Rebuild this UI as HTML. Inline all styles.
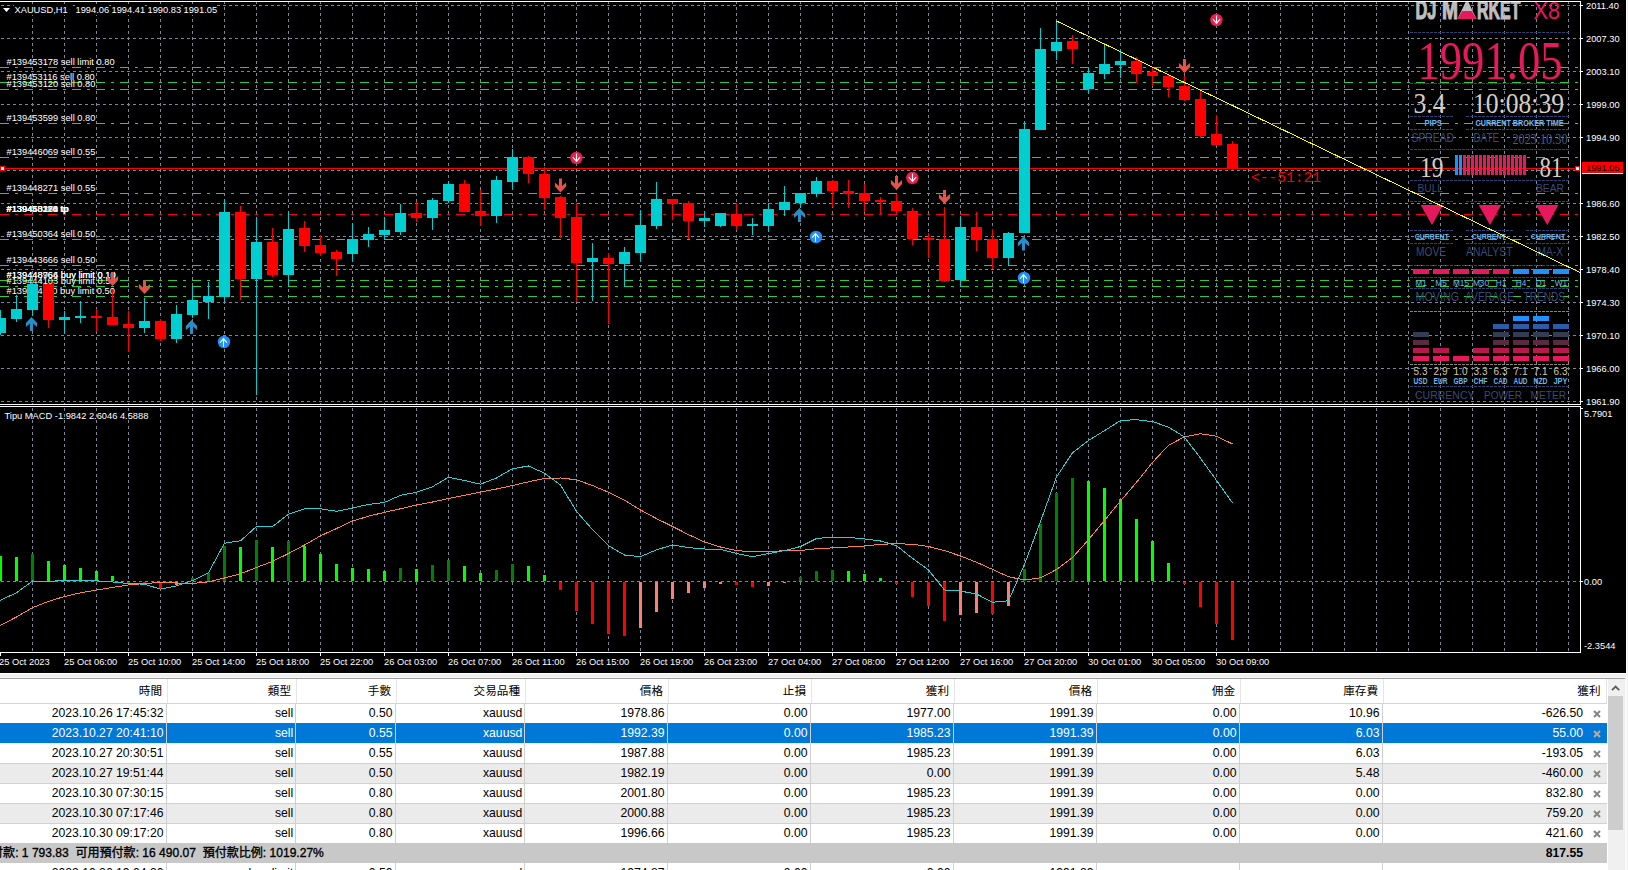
<!DOCTYPE html>
<html><head><meta charset="utf-8"><title>MT4</title>
<style>
html,body{margin:0;padding:0}
body{width:1628px;height:870px;overflow:hidden;background:#f0f0f0;position:relative;font-family:"Liberation Sans","Noto Sans CJK TC",sans-serif}

#term{position:absolute;left:0;top:673px;width:1628px;height:197px;background:#f0f0f0;overflow:hidden}
#term div{position:absolute}
#term .c{top:0;height:20px;line-height:20px;text-align:right;white-space:nowrap;font-size:12.2px;color:#000}
#term .h{top:0;height:24px;line-height:24px;text-align:right;white-space:nowrap;font-size:11.6px;color:#000}
#term .x{font-size:12px;color:#8a8a8a;font-weight:bold;line-height:12px}

</style></head><body>
<svg width="1628" height="673" viewBox="0 0 1628 673" style="position:absolute;left:0;top:0;display:block" font-family='"Liberation Sans", sans-serif'>
<rect x="0" y="0" width="1628" height="673" fill="#f0f0f0"/>
<rect x="1626" y="0" width="1" height="673" fill="#fff"/>
<rect x="0" y="0" width="1626" height="673" fill="#000"/>
<defs><clipPath id="cm"><rect x="0" y="2" width="1580" height="402"/></clipPath><clipPath id="cs"><rect x="0" y="407" width="1580" height="245"/></clipPath></defs>
<g clip-path="url(#cm)">
<path d="M0 5.5H1580 M0 38.5H1580 M0 71.5H1580 M0 104.5H1580 M0 137.5H1580 M0 170.5H1580 M0 203.5H1580 M0 236.5H1580 M0 269.5H1580 M0 302.5H1580 M0 335.5H1580 M0 368.5H1580 M0 401.5H1580" stroke="#778899" stroke-width="1" stroke-dasharray="3 3" stroke-dashoffset="5" fill="none" shape-rendering="crispEdges"/>
<path d="M32.5 0V404 M64.5 0V404 M96.5 0V404 M128.5 0V404 M160.5 0V404 M192.5 0V404 M224.5 0V404 M256.5 0V404 M288.5 0V404 M320.5 0V404 M352.5 0V404 M384.5 0V404 M416.5 0V404 M448.5 0V404 M480.5 0V404 M512.5 0V404 M544.5 0V404 M576.5 0V404 M608.5 0V404 M640.5 0V404 M672.5 0V404 M704.5 0V404 M736.5 0V404 M768.5 0V404 M800.5 0V404 M832.5 0V404 M864.5 0V404 M896.5 0V404 M928.5 0V404 M960.5 0V404 M992.5 0V404 M1024.5 0V404 M1056.5 0V404 M1088.5 0V404 M1120.5 0V404 M1152.5 0V404 M1184.5 0V404 M1216.5 0V404 M1248.5 0V404 M1280.5 0V404 M1312.5 0V404 M1344.5 0V404 M1376.5 0V404 M1408.5 0V404 M1440.5 0V404 M1472.5 0V404 M1504.5 0V404 M1536.5 0V404 M1568.5 0V404" stroke="#778899" stroke-width="1" stroke-dasharray="3 3" stroke-dashoffset="5" fill="none" shape-rendering="crispEdges"/>
<path d="M0 67.5H1580 M0 82.5H1580 M0 89.5H1580 M0 123.5H1580 M0 157.5H1580 M0 193.5H1580 M0 239.5H1580 M0 265.5H1580 M0 280.5H1580 M0 286.5H1580 M0 296.5H1580" stroke="#32cd32" stroke-width="1" stroke-dasharray="9 6 3 6" fill="none" shape-rendering="crispEdges"/>
<path d="M0 214.5H1580" stroke="#ff0000" stroke-width="1" stroke-dasharray="9 6 3 6" fill="none" shape-rendering="crispEdges"/>
<path d="M0 168.5H1580" stroke="#ff0000" stroke-width="1" fill="none" shape-rendering="crispEdges"/>
<rect x="0" y="166" width="5" height="5" fill="#f00"/><rect x="1" y="167" width="3" height="3" fill="#fff"/>
<text transform="matrix(0.95,0,0,1,6.5,65.0)" font-size="9.8" fill="#fff">#139453178 sell limit 0.80</text>
<text transform="matrix(0.95,0,0,1,6.5,80.0)" font-size="9.8" fill="#fff">#139453116 sell 0.80</text>
<text transform="matrix(0.95,0,0,1,6.5,87.0)" font-size="9.8" fill="#fff">#139453120 sell 0.80</text>
<text transform="matrix(0.95,0,0,1,6.5,121.0)" font-size="9.8" fill="#fff">#139453599 sell 0.80</text>
<text transform="matrix(0.95,0,0,1,6.5,155.0)" font-size="9.8" fill="#fff">#139446069 sell 0.55</text>
<text transform="matrix(0.95,0,0,1,6.5,191.0)" font-size="9.8" fill="#fff">#139448271 sell 0.55</text>
<text transform="matrix(0.95,0,0,1,6.5,237.0)" font-size="9.8" fill="#fff">#139450364 sell 0.50</text>
<text transform="matrix(0.95,0,0,1,6.5,263.0)" font-size="9.8" fill="#fff">#139443666 sell 0.50</text>
<text transform="matrix(0.95,0,0,1,6.5,278.0)" font-size="9.8" fill="#fff">#139448766 buy limit 0.10</text>
<text transform="matrix(0.95,0,0,1,6.5,278.0)" font-size="9.8" fill="#fff">#139448964 buy limit 0.10</text>
<text transform="matrix(0.95,0,0,1,6.5,284.0)" font-size="9.8" fill="#fff">#139444103 buy limit 0.50</text>
<text transform="matrix(0.95,0,0,1,6.5,294.0)" font-size="9.8" fill="#fff">#139444110 buy limit 0.50</text>
<text transform="matrix(0.95,0,0,1,6.5,212.0)" font-size="9.8" fill="#fff">#139453116 tp</text>
<text transform="matrix(0.95,0,0,1,6.5,212.0)" font-size="9.8" fill="#fff">#139453120 tp</text>
<text transform="matrix(0.95,0,0,1,6.5,212.0)" font-size="9.8" fill="#fff">#139450364 tp</text>
<text transform="matrix(0.95,0,0,1,6.5,212.0)" font-size="9.8" fill="#fff">#139448271 tp</text>
<rect x="0" y="310" width="1" height="25" fill="#00ced1"/>
<rect x="-5" y="318" width="11" height="15" fill="#00ced1"/>
<rect x="16" y="295" width="1" height="27" fill="#00ced1"/>
<rect x="11" y="309" width="11" height="10" fill="#00ced1"/>
<rect x="32" y="284" width="1" height="32" fill="#00ced1"/>
<rect x="27" y="284" width="11" height="26" fill="#00ced1"/>
<rect x="48" y="284" width="1" height="44" fill="#ff0000"/>
<rect x="43" y="284" width="11" height="36" fill="#ff0000"/>
<rect x="64" y="311" width="1" height="23" fill="#00ced1"/>
<rect x="59" y="317" width="11" height="3" fill="#00ced1"/>
<rect x="80" y="301" width="1" height="22" fill="#00ced1"/>
<rect x="75" y="316" width="11" height="2" fill="#00ced1"/>
<rect x="96" y="309" width="1" height="23" fill="#ff0000"/>
<rect x="91" y="316" width="11" height="2" fill="#ff0000"/>
<rect x="112" y="289" width="1" height="36" fill="#ff0000"/>
<rect x="107" y="317" width="11" height="8" fill="#ff0000"/>
<rect x="128" y="311" width="1" height="41" fill="#ff0000"/>
<rect x="123" y="324" width="11" height="4" fill="#ff0000"/>
<rect x="144" y="298" width="1" height="35" fill="#00ced1"/>
<rect x="139" y="321" width="11" height="7" fill="#00ced1"/>
<rect x="160" y="319" width="1" height="22" fill="#ff0000"/>
<rect x="155" y="321" width="11" height="18" fill="#ff0000"/>
<rect x="176" y="305" width="1" height="38" fill="#00ced1"/>
<rect x="171" y="314" width="11" height="25" fill="#00ced1"/>
<rect x="192" y="285" width="1" height="33" fill="#00ced1"/>
<rect x="187" y="300" width="11" height="15" fill="#00ced1"/>
<rect x="208" y="282" width="1" height="37" fill="#00ced1"/>
<rect x="203" y="296" width="11" height="6" fill="#00ced1"/>
<rect x="224" y="199" width="1" height="103" fill="#00ced1"/>
<rect x="219" y="212" width="11" height="85" fill="#00ced1"/>
<rect x="240" y="206" width="1" height="94" fill="#ff0000"/>
<rect x="235" y="212" width="11" height="67" fill="#ff0000"/>
<rect x="256" y="217" width="1" height="178" fill="#00ced1"/>
<rect x="251" y="242" width="11" height="37" fill="#00ced1"/>
<rect x="272" y="228" width="1" height="49" fill="#ff0000"/>
<rect x="267" y="242" width="11" height="33" fill="#ff0000"/>
<rect x="288" y="211" width="1" height="75" fill="#00ced1"/>
<rect x="283" y="229" width="11" height="46" fill="#00ced1"/>
<rect x="304" y="221" width="1" height="31" fill="#ff0000"/>
<rect x="299" y="228" width="11" height="18" fill="#ff0000"/>
<rect x="320" y="235" width="1" height="21" fill="#ff0000"/>
<rect x="315" y="245" width="11" height="8" fill="#ff0000"/>
<rect x="336" y="250" width="1" height="26" fill="#ff0000"/>
<rect x="331" y="252" width="11" height="7" fill="#ff0000"/>
<rect x="352" y="223" width="1" height="39" fill="#00ced1"/>
<rect x="347" y="239" width="11" height="15" fill="#00ced1"/>
<rect x="368" y="227" width="1" height="20" fill="#00ced1"/>
<rect x="363" y="234" width="11" height="6" fill="#00ced1"/>
<rect x="384" y="217" width="1" height="22" fill="#00ced1"/>
<rect x="379" y="230" width="11" height="5" fill="#00ced1"/>
<rect x="400" y="204" width="1" height="31" fill="#00ced1"/>
<rect x="395" y="213" width="11" height="19" fill="#00ced1"/>
<rect x="416" y="202" width="1" height="20" fill="#ff0000"/>
<rect x="411" y="213" width="11" height="5" fill="#ff0000"/>
<rect x="432" y="198" width="1" height="32" fill="#00ced1"/>
<rect x="427" y="200" width="11" height="18" fill="#00ced1"/>
<rect x="448" y="181" width="1" height="22" fill="#00ced1"/>
<rect x="443" y="184" width="11" height="17" fill="#00ced1"/>
<rect x="464" y="180" width="1" height="32" fill="#ff0000"/>
<rect x="459" y="184" width="11" height="28" fill="#ff0000"/>
<rect x="480" y="190" width="1" height="36" fill="#ff0000"/>
<rect x="475" y="211" width="11" height="5" fill="#ff0000"/>
<rect x="496" y="176" width="1" height="47" fill="#00ced1"/>
<rect x="491" y="180" width="11" height="36" fill="#00ced1"/>
<rect x="512" y="149" width="1" height="41" fill="#00ced1"/>
<rect x="507" y="157" width="11" height="25" fill="#00ced1"/>
<rect x="528" y="156" width="1" height="27" fill="#ff0000"/>
<rect x="523" y="157" width="11" height="17" fill="#ff0000"/>
<rect x="544" y="167" width="1" height="43" fill="#ff0000"/>
<rect x="539" y="174" width="11" height="24" fill="#ff0000"/>
<rect x="560" y="196" width="1" height="42" fill="#ff0000"/>
<rect x="555" y="197" width="11" height="21" fill="#ff0000"/>
<rect x="576" y="203" width="1" height="99" fill="#ff0000"/>
<rect x="571" y="217" width="11" height="46" fill="#ff0000"/>
<rect x="592" y="243" width="1" height="58" fill="#00ced1"/>
<rect x="587" y="258" width="11" height="4" fill="#00ced1"/>
<rect x="608" y="253" width="1" height="71" fill="#ff0000"/>
<rect x="603" y="258" width="11" height="6" fill="#ff0000"/>
<rect x="624" y="247" width="1" height="40" fill="#00ced1"/>
<rect x="619" y="252" width="11" height="12" fill="#00ced1"/>
<rect x="640" y="210" width="1" height="52" fill="#00ced1"/>
<rect x="635" y="225" width="11" height="28" fill="#00ced1"/>
<rect x="656" y="182" width="1" height="47" fill="#00ced1"/>
<rect x="651" y="199" width="11" height="27" fill="#00ced1"/>
<rect x="672" y="199" width="1" height="21" fill="#ff0000"/>
<rect x="667" y="199" width="11" height="5" fill="#ff0000"/>
<rect x="688" y="201" width="1" height="38" fill="#ff0000"/>
<rect x="683" y="203" width="11" height="18" fill="#ff0000"/>
<rect x="704" y="211" width="1" height="16" fill="#00ced1"/>
<rect x="699" y="218" width="11" height="3" fill="#00ced1"/>
<rect x="720" y="213" width="1" height="14" fill="#00ced1"/>
<rect x="715" y="213" width="11" height="13" fill="#00ced1"/>
<rect x="736" y="203" width="1" height="27" fill="#ff0000"/>
<rect x="731" y="214" width="11" height="12" fill="#ff0000"/>
<rect x="752" y="218" width="1" height="17" fill="#00ced1"/>
<rect x="747" y="224" width="11" height="2" fill="#00ced1"/>
<rect x="768" y="203" width="1" height="29" fill="#00ced1"/>
<rect x="763" y="209" width="11" height="17" fill="#00ced1"/>
<rect x="784" y="186" width="1" height="30" fill="#00ced1"/>
<rect x="779" y="202" width="11" height="8" fill="#00ced1"/>
<rect x="800" y="193" width="1" height="15" fill="#00ced1"/>
<rect x="795" y="193" width="11" height="10" fill="#00ced1"/>
<rect x="816" y="177" width="1" height="20" fill="#00ced1"/>
<rect x="811" y="181" width="11" height="13" fill="#00ced1"/>
<rect x="832" y="180" width="1" height="27" fill="#ff0000"/>
<rect x="827" y="181" width="11" height="10" fill="#ff0000"/>
<rect x="848" y="180" width="1" height="28" fill="#ff0000"/>
<rect x="843" y="191" width="11" height="3" fill="#ff0000"/>
<rect x="864" y="184" width="1" height="28" fill="#ff0000"/>
<rect x="859" y="193" width="11" height="8" fill="#ff0000"/>
<rect x="880" y="197" width="1" height="17" fill="#ff0000"/>
<rect x="875" y="200" width="11" height="2" fill="#ff0000"/>
<rect x="896" y="194" width="1" height="21" fill="#ff0000"/>
<rect x="891" y="201" width="11" height="10" fill="#ff0000"/>
<rect x="912" y="208" width="1" height="37" fill="#ff0000"/>
<rect x="907" y="211" width="11" height="28" fill="#ff0000"/>
<rect x="928" y="233" width="1" height="25" fill="#ff0000"/>
<rect x="923" y="238" width="11" height="2" fill="#ff0000"/>
<rect x="944" y="207" width="1" height="75" fill="#ff0000"/>
<rect x="939" y="239" width="11" height="42" fill="#ff0000"/>
<rect x="960" y="216" width="1" height="71" fill="#00ced1"/>
<rect x="955" y="227" width="11" height="53" fill="#00ced1"/>
<rect x="976" y="212" width="1" height="39" fill="#ff0000"/>
<rect x="971" y="227" width="11" height="13" fill="#ff0000"/>
<rect x="992" y="229" width="1" height="40" fill="#ff0000"/>
<rect x="987" y="239" width="11" height="19" fill="#ff0000"/>
<rect x="1008" y="232" width="1" height="34" fill="#00ced1"/>
<rect x="1003" y="233" width="11" height="25" fill="#00ced1"/>
<rect x="1024" y="122" width="1" height="111" fill="#00ced1"/>
<rect x="1019" y="129" width="11" height="104" fill="#00ced1"/>
<rect x="1040" y="28" width="1" height="102" fill="#00ced1"/>
<rect x="1035" y="49" width="11" height="81" fill="#00ced1"/>
<rect x="1056" y="21" width="1" height="39" fill="#00ced1"/>
<rect x="1051" y="42" width="11" height="9" fill="#00ced1"/>
<rect x="1072" y="35" width="1" height="29" fill="#ff0000"/>
<rect x="1067" y="41" width="11" height="8" fill="#ff0000"/>
<rect x="1088" y="68" width="1" height="25" fill="#00ced1"/>
<rect x="1083" y="73" width="11" height="16" fill="#00ced1"/>
<rect x="1104" y="43" width="1" height="36" fill="#00ced1"/>
<rect x="1099" y="64" width="11" height="10" fill="#00ced1"/>
<rect x="1120" y="50" width="1" height="28" fill="#00ced1"/>
<rect x="1115" y="61" width="11" height="4" fill="#00ced1"/>
<rect x="1136" y="57" width="1" height="26" fill="#ff0000"/>
<rect x="1131" y="61" width="11" height="13" fill="#ff0000"/>
<rect x="1152" y="68" width="1" height="18" fill="#ff0000"/>
<rect x="1147" y="72" width="11" height="4" fill="#ff0000"/>
<rect x="1168" y="74" width="1" height="23" fill="#ff0000"/>
<rect x="1163" y="76" width="11" height="11" fill="#ff0000"/>
<rect x="1184" y="76" width="1" height="25" fill="#ff0000"/>
<rect x="1179" y="86" width="11" height="14" fill="#ff0000"/>
<rect x="1200" y="91" width="1" height="47" fill="#ff0000"/>
<rect x="1195" y="99" width="11" height="37" fill="#ff0000"/>
<rect x="1216" y="115" width="1" height="31" fill="#ff0000"/>
<rect x="1211" y="134" width="11" height="11" fill="#ff0000"/>
<rect x="1232" y="141" width="1" height="29" fill="#ff0000"/>
<rect x="1227" y="144" width="11" height="25" fill="#ff0000"/>
<polygon points="31.5,317.0 37.1,323.0 37.1,327.0 33.0,323.5 33.0,331.0 30.0,331.0 30.0,323.5 25.9,327.0 25.9,323.0" fill="#2390c8"/>
<polygon points="191.5,320.0 197.1,326.0 197.1,330.0 193.0,326.5 193.0,334.0 190.0,334.0 190.0,326.5 185.9,330.0 185.9,326.0" fill="#2390c8"/>
<polygon points="799.5,208.0 805.1,214.0 805.1,218.0 801.0,214.5 801.0,222.0 798.0,222.0 798.0,214.5 793.9,218.0 793.9,214.0" fill="#2390c8"/>
<polygon points="1023.5,236.5 1029.1,242.5 1029.1,246.5 1025.0,243.0 1025.0,250.5 1022.0,250.5 1022.0,243.0 1017.9,246.5 1017.9,242.5" fill="#2390c8"/>
<polygon points="112.5,286.0 118.1,280.0 118.1,276.0 114.0,279.5 114.0,272.0 111.0,272.0 111.0,279.5 106.9,276.0 106.9,280.0" fill="#e8504a"/>
<polygon points="144.5,294.0 150.1,288.0 150.1,284.0 146.0,287.5 146.0,280.0 143.0,280.0 143.0,287.5 138.9,284.0 138.9,288.0" fill="#e8504a"/>
<polygon points="560.5,192.6 566.1,186.6 566.1,182.6 562.0,186.1 562.0,178.6 559.0,178.6 559.0,186.1 554.9,182.6 554.9,186.6" fill="#e8504a"/>
<polygon points="896.5,190.0 902.1,184.0 902.1,180.0 898.0,183.5 898.0,176.0 895.0,176.0 895.0,183.5 890.9,180.0 890.9,184.0" fill="#e8504a"/>
<polygon points="944.5,204.0 950.1,198.0 950.1,194.0 946.0,197.5 946.0,190.0 943.0,190.0 943.0,197.5 938.9,194.0 938.9,198.0" fill="#e8504a"/>
<polygon points="1184.5,73.0 1190.1,67.0 1190.1,63.0 1186.0,66.5 1186.0,59.0 1183.0,59.0 1183.0,66.5 1178.9,63.0 1178.9,67.0" fill="#e8504a"/>
<circle cx="224" cy="342" r="6.2" fill="#1e90ff"/><path d="M223.5 346.8V338.8 M220.1 342.7L223.5 338.7L226.9 342.7" stroke="#fff" stroke-width="1.1" fill="none"/>
<circle cx="816" cy="237" r="6.2" fill="#1e90ff"/><path d="M815.5 241.8V233.8 M812.1 237.7L815.5 233.7L818.9 237.7" stroke="#fff" stroke-width="1.1" fill="none"/>
<circle cx="1024" cy="278" r="6.2" fill="#1e90ff"/><path d="M1023.5 282.8V274.8 M1020.1 278.7L1023.5 274.7L1026.9 278.7" stroke="#fff" stroke-width="1.1" fill="none"/>
<circle cx="576.4" cy="158" r="6.2" fill="#e8204f"/><path d="M576.5 153.4V161.2 M572.9 157.2L576.5 161.3L580.1 157.2" stroke="#fff" stroke-width="1.1" fill="none"/>
<circle cx="912.4" cy="178" r="6.2" fill="#e8204f"/><path d="M912.5 173.4V181.2 M908.9 177.2L912.5 181.3L916.1 177.2" stroke="#fff" stroke-width="1.1" fill="none"/>
<circle cx="1216.4" cy="20" r="6.2" fill="#e8204f"/><path d="M1216.5 15.4V23.2 M1212.9 19.2L1216.5 23.3L1220.1 19.2" stroke="#fff" stroke-width="1.1" fill="none"/>
<g stroke="#bebebe" stroke-width="1.2">
<text x="1415.5" y="18.6" font-family='"Liberation Sans", sans-serif' font-size="28" fill="#bebebe" textLength="21" lengthAdjust="spacingAndGlyphs" font-weight="bold">DJ</text>
<text x="1442" y="18.6" font-family='"Liberation Sans", sans-serif' font-size="28" fill="#bebebe" textLength="16" lengthAdjust="spacingAndGlyphs" font-weight="bold">M</text>
<text x="1477" y="18.6" font-family='"Liberation Sans", sans-serif' font-size="28" fill="#bebebe" textLength="43.5" lengthAdjust="spacingAndGlyphs" font-weight="bold">RKET</text>
</g>
<polygon points="1467,-1 1476.5,19 1457.5,19" fill="#bebebe"/>
<polygon points="1462.2,11 1471.8,11 1476.5,19 1457.5,19" fill="#e6195f"/>
<text x="1533.5" y="18.5" font-family='"Liberation Sans", sans-serif' font-size="23.5" fill="#e6195f" textLength="26.5" lengthAdjust="spacingAndGlyphs">X8</text>
<path d="M1410 32.5H1570" stroke="#2f4274" stroke-width="1" stroke-dasharray="3 1" fill="none" shape-rendering="crispEdges"/>
<path d="M1410 83.5H1570" stroke="#2f4274" stroke-width="1" stroke-dasharray="3 1" fill="none" shape-rendering="crispEdges"/>
<path d="M1410 149.5H1570" stroke="#2f4274" stroke-width="1" stroke-dasharray="3 1" fill="none" shape-rendering="crispEdges"/>
<path d="M1410 180.5H1570" stroke="#2f4274" stroke-width="1" stroke-dasharray="3 1" fill="none" shape-rendering="crispEdges"/>
<path d="M1410 265.5H1570" stroke="#2f4274" stroke-width="1" stroke-dasharray="3 1" fill="none" shape-rendering="crispEdges"/>
<path d="M1410 277.5H1570" stroke="#2f4274" stroke-width="1" stroke-dasharray="3 1" fill="none" shape-rendering="crispEdges"/>
<path d="M1410 288.5H1570" stroke="#2f4274" stroke-width="1" stroke-dasharray="3 1" fill="none" shape-rendering="crispEdges"/>
<path d="M1410 386.5H1570" stroke="#2f4274" stroke-width="1" stroke-dasharray="3 1" fill="none" shape-rendering="crispEdges"/>
<path d="M1410 116.5H1454" stroke="#2f4274" stroke-width="1" stroke-dasharray="3 1" fill="none" shape-rendering="crispEdges"/>
<path d="M1466 116.5H1570" stroke="#2f4274" stroke-width="1" stroke-dasharray="3 1" fill="none" shape-rendering="crispEdges"/>
<path d="M1410 129.5H1454" stroke="#2f4274" stroke-width="1" stroke-dasharray="3 1" fill="none" shape-rendering="crispEdges"/>
<path d="M1466 129.5H1570" stroke="#2f4274" stroke-width="1" stroke-dasharray="3 1" fill="none" shape-rendering="crispEdges"/>
<path d="M1410 201.5H1454" stroke="#2f4274" stroke-width="1" stroke-dasharray="3 1" fill="none" shape-rendering="crispEdges"/>
<path d="M1466 201.5H1513" stroke="#2f4274" stroke-width="1" stroke-dasharray="3 1" fill="none" shape-rendering="crispEdges"/>
<path d="M1526 201.5H1570" stroke="#2f4274" stroke-width="1" stroke-dasharray="3 1" fill="none" shape-rendering="crispEdges"/>
<path d="M1410 230.5H1454" stroke="#2f4274" stroke-width="1" stroke-dasharray="3 1" fill="none" shape-rendering="crispEdges"/>
<path d="M1466 230.5H1513" stroke="#2f4274" stroke-width="1" stroke-dasharray="3 1" fill="none" shape-rendering="crispEdges"/>
<path d="M1526 230.5H1570" stroke="#2f4274" stroke-width="1" stroke-dasharray="3 1" fill="none" shape-rendering="crispEdges"/>
<path d="M1410 243.5H1454" stroke="#2f4274" stroke-width="1" stroke-dasharray="3 1" fill="none" shape-rendering="crispEdges"/>
<path d="M1466 243.5H1513" stroke="#2f4274" stroke-width="1" stroke-dasharray="3 1" fill="none" shape-rendering="crispEdges"/>
<path d="M1526 243.5H1570" stroke="#2f4274" stroke-width="1" stroke-dasharray="3 1" fill="none" shape-rendering="crispEdges"/>
<path d="M1410 311.5H1570" stroke="#8a8580" stroke-width="1" stroke-dasharray="3 1" fill="none" shape-rendering="crispEdges"/>
<path d="M1410 364.5H1570" stroke="#8a8580" stroke-width="1" stroke-dasharray="3 1" fill="none" shape-rendering="crispEdges"/>
<text x="1417.5" y="79.2" font-family='"Liberation Serif", serif' font-size="55" fill="#e6195f" textLength="145" lengthAdjust="spacingAndGlyphs">1991.05</text>
<text x="1413.5" y="112.7" font-family='"Liberation Serif", serif' font-size="29.4" fill="#d6cec4" textLength="32" lengthAdjust="spacingAndGlyphs">3.4</text>
<text x="1473" y="112.7" font-family='"Liberation Serif", serif' font-size="29.4" fill="#d6cec4" textLength="91" lengthAdjust="spacingAndGlyphs">10:08:39</text>
<text x="1424.5" y="125.8" font-family='"Liberation Sans", sans-serif' font-size="8.4" fill="#6cb8ee" textLength="17.5" lengthAdjust="spacingAndGlyphs" font-weight="bold">PIPS</text>
<text x="1475.5" y="125.8" font-family='"Liberation Sans", sans-serif' font-size="8.4" fill="#6cb8ee" textLength="88" lengthAdjust="spacingAndGlyphs" font-weight="bold">CURRENT BROKER TIME</text>
<text x="1411.5" y="142" font-family='"Liberation Sans", sans-serif' font-size="12.6" fill="#3a4a78" textLength="42.5" lengthAdjust="spacingAndGlyphs">SPREAD</text>
<text x="1473.5" y="142" font-family='"Liberation Sans", sans-serif' font-size="12.6" fill="#3a4a78" textLength="25.5" lengthAdjust="spacingAndGlyphs">DATE</text>
<text x="1512.5" y="143.6" font-family='"Liberation Serif", serif' font-size="14" fill="#4c5a88" textLength="55" lengthAdjust="spacingAndGlyphs">2023.10.30</text>
<text x="1420" y="177.3" font-family='"Liberation Serif", serif' font-size="28.5" fill="#d6cec4" textLength="23.5" lengthAdjust="spacingAndGlyphs">19</text>
<text x="1539.5" y="177.3" font-family='"Liberation Serif", serif' font-size="28.5" fill="#d6cec4" textLength="23" lengthAdjust="spacingAndGlyphs">81</text>
<rect x="1455" y="155" width="3" height="20" fill="#1e90ff"/>
<rect x="1459" y="155" width="3" height="20" fill="#1e90ff"/>
<rect x="1463" y="155" width="3" height="20" fill="#e6195f"/>
<rect x="1467" y="155" width="3" height="20" fill="#e6195f"/>
<rect x="1471" y="155" width="3" height="20" fill="#e6195f"/>
<rect x="1475" y="155" width="3" height="20" fill="#e6195f"/>
<rect x="1479" y="155" width="3" height="20" fill="#e6195f"/>
<rect x="1483" y="155" width="3" height="20" fill="#e6195f"/>
<rect x="1487" y="155" width="3" height="20" fill="#e6195f"/>
<rect x="1491" y="155" width="3" height="20" fill="#e6195f"/>
<rect x="1495" y="155" width="3" height="20" fill="#e6195f"/>
<rect x="1499" y="155" width="3" height="20" fill="#e6195f"/>
<rect x="1503" y="155" width="3" height="20" fill="#e6195f"/>
<rect x="1507" y="155" width="3" height="20" fill="#e6195f"/>
<rect x="1511" y="155" width="3" height="20" fill="#e6195f"/>
<rect x="1515" y="155" width="3" height="20" fill="#e6195f"/>
<rect x="1519" y="155" width="3" height="20" fill="#e6195f"/>
<rect x="1523" y="155" width="3" height="20" fill="#e6195f"/>
<text x="1417.5" y="192.4" font-family='"Liberation Sans", sans-serif' font-size="10.6" fill="#3a4a78" textLength="25.5" lengthAdjust="spacingAndGlyphs">BULL</text>
<text x="1536" y="192.4" font-family='"Liberation Sans", sans-serif' font-size="10.6" fill="#3a4a78" textLength="28" lengthAdjust="spacingAndGlyphs">BEAR</text>
<polygon points="1420.7,205 1443.2,205 1432,225" fill="#e6195f"/>
<polygon points="1478.7,205 1501.2,205 1490,225" fill="#e6195f"/>
<polygon points="1535.9,205 1558.4,205 1547.2,225" fill="#e6195f"/>
<text x="1414.8" y="239.3" font-family='"Liberation Sans", sans-serif' font-size="7.2" fill="#6cb8ee" textLength="34.0" lengthAdjust="spacingAndGlyphs" font-weight="bold">CURRENT</text>
<text x="1471.8" y="239.3" font-family='"Liberation Sans", sans-serif' font-size="7.2" fill="#6cb8ee" textLength="33.90000000000009" lengthAdjust="spacingAndGlyphs" font-weight="bold">CURRENT</text>
<text x="1530.8" y="239.3" font-family='"Liberation Sans", sans-serif' font-size="7.2" fill="#6cb8ee" textLength="34.40000000000009" lengthAdjust="spacingAndGlyphs" font-weight="bold">CURRENT</text>
<text x="1416" y="256" font-family='"Liberation Sans", sans-serif' font-size="12.4" fill="#3a4a78" textLength="30" lengthAdjust="spacingAndGlyphs">MOVE</text>
<text x="1466" y="256" font-family='"Liberation Sans", sans-serif' font-size="12.4" fill="#3a4a78" textLength="46.5" lengthAdjust="spacingAndGlyphs">ANALYST</text>
<text x="1537.5" y="256" font-family='"Liberation Sans", sans-serif' font-size="12.4" fill="#3a4a78" textLength="25.5" lengthAdjust="spacingAndGlyphs">MA-X</text>
<rect x="1413" y="269" width="16" height="5" fill="#e6195f"/>
<rect x="1433" y="269" width="16" height="5" fill="#e6195f"/>
<rect x="1453" y="269" width="16" height="5" fill="#e6195f"/>
<rect x="1473" y="269" width="16" height="5" fill="#e6195f"/>
<rect x="1493" y="269" width="16" height="5" fill="#e6195f"/>
<rect x="1513" y="269" width="16" height="5" fill="#1e90ff"/>
<rect x="1533" y="269" width="16" height="5" fill="#1e90ff"/>
<rect x="1553" y="269" width="16" height="5" fill="#1e90ff"/>
<text x="1421" y="286" font-family='"Liberation Sans", sans-serif' font-size="8.3" fill="#6cb8ee" text-anchor="middle">M1</text>
<text x="1441" y="286" font-family='"Liberation Sans", sans-serif' font-size="8.3" fill="#6cb8ee" text-anchor="middle">M5</text>
<text x="1461" y="286" font-family='"Liberation Sans", sans-serif' font-size="8.3" fill="#6cb8ee" text-anchor="middle">M15</text>
<text x="1481" y="286" font-family='"Liberation Sans", sans-serif' font-size="8.3" fill="#6cb8ee" text-anchor="middle">M30</text>
<text x="1501" y="286" font-family='"Liberation Sans", sans-serif' font-size="8.3" fill="#6cb8ee" text-anchor="middle">H1</text>
<text x="1521" y="286" font-family='"Liberation Sans", sans-serif' font-size="8.3" fill="#6cb8ee" text-anchor="middle">H4</text>
<text x="1541" y="286" font-family='"Liberation Sans", sans-serif' font-size="8.3" fill="#6cb8ee" text-anchor="middle">D1</text>
<text x="1561" y="286" font-family='"Liberation Sans", sans-serif' font-size="8.3" fill="#6cb8ee" text-anchor="middle">W1</text>
<text x="1415.5" y="301.4" font-family='"Liberation Sans", sans-serif' font-size="12.6" fill="#3a4a78" textLength="43.5" lengthAdjust="spacingAndGlyphs">MOVING</text>
<text x="1465" y="301.4" font-family='"Liberation Sans", sans-serif' font-size="12.6" fill="#3a4a78" textLength="49" lengthAdjust="spacingAndGlyphs">AVERAGE</text>
<text x="1523.5" y="301.4" font-family='"Liberation Sans", sans-serif' font-size="12.6" fill="#3a4a78" textLength="41.5" lengthAdjust="spacingAndGlyphs">TRENDS</text>
<rect x="1413" y="332" width="16" height="5" fill="#343c54"/>
<rect x="1413" y="340" width="16" height="5" fill="#5a2a40"/>
<rect x="1413" y="348" width="16" height="5" fill="#b8184c"/>
<rect x="1413" y="356" width="16" height="5" fill="#e6195f"/>
<rect x="1433" y="348" width="16" height="5" fill="#b8184c"/>
<rect x="1433" y="356" width="16" height="5" fill="#e6195f"/>
<rect x="1453" y="356" width="16" height="5" fill="#e6195f"/>
<rect x="1473" y="348" width="16" height="5" fill="#b8184c"/>
<rect x="1473" y="356" width="16" height="5" fill="#e6195f"/>
<rect x="1493" y="324" width="16" height="5" fill="#2a5ca8"/>
<rect x="1493" y="332" width="16" height="5" fill="#343c54"/>
<rect x="1493" y="340" width="16" height="5" fill="#5a2a40"/>
<rect x="1493" y="348" width="16" height="5" fill="#b8184c"/>
<rect x="1493" y="356" width="16" height="5" fill="#e6195f"/>
<rect x="1513" y="316" width="16" height="5" fill="#1e90ff"/>
<rect x="1513" y="324" width="16" height="5" fill="#2a5ca8"/>
<rect x="1513" y="332" width="16" height="5" fill="#343c54"/>
<rect x="1513" y="340" width="16" height="5" fill="#5a2a40"/>
<rect x="1513" y="348" width="16" height="5" fill="#b8184c"/>
<rect x="1513" y="356" width="16" height="5" fill="#e6195f"/>
<rect x="1533" y="316" width="16" height="5" fill="#1e90ff"/>
<rect x="1533" y="324" width="16" height="5" fill="#2a5ca8"/>
<rect x="1533" y="332" width="16" height="5" fill="#343c54"/>
<rect x="1533" y="340" width="16" height="5" fill="#5a2a40"/>
<rect x="1533" y="348" width="16" height="5" fill="#b8184c"/>
<rect x="1533" y="356" width="16" height="5" fill="#e6195f"/>
<rect x="1553" y="324" width="16" height="5" fill="#2a5ca8"/>
<rect x="1553" y="332" width="16" height="5" fill="#343c54"/>
<rect x="1553" y="340" width="16" height="5" fill="#5a2a40"/>
<rect x="1553" y="348" width="16" height="5" fill="#b8184c"/>
<rect x="1553" y="356" width="16" height="5" fill="#e6195f"/>
<text x="1420.5" y="374.8" font-family='"Liberation Sans", sans-serif' font-size="10" fill="#d8c4a8" text-anchor="middle">5.3</text>
<text x="1420.5" y="383.6" font-family='"Liberation Sans", sans-serif' font-size="8.3" fill="#6cb8ee" textLength="14" lengthAdjust="spacingAndGlyphs" font-weight="bold" text-anchor="middle">USD</text>
<text x="1440.5" y="374.8" font-family='"Liberation Sans", sans-serif' font-size="10" fill="#d8c4a8" text-anchor="middle">2.9</text>
<text x="1440.5" y="383.6" font-family='"Liberation Sans", sans-serif' font-size="8.3" fill="#6cb8ee" textLength="14" lengthAdjust="spacingAndGlyphs" font-weight="bold" text-anchor="middle">EUR</text>
<text x="1460.5" y="374.8" font-family='"Liberation Sans", sans-serif' font-size="10" fill="#d8c4a8" text-anchor="middle">1.0</text>
<text x="1460.5" y="383.6" font-family='"Liberation Sans", sans-serif' font-size="8.3" fill="#6cb8ee" textLength="14" lengthAdjust="spacingAndGlyphs" font-weight="bold" text-anchor="middle">GBP</text>
<text x="1480.5" y="374.8" font-family='"Liberation Sans", sans-serif' font-size="10" fill="#d8c4a8" text-anchor="middle">3.3</text>
<text x="1480.5" y="383.6" font-family='"Liberation Sans", sans-serif' font-size="8.3" fill="#6cb8ee" textLength="14" lengthAdjust="spacingAndGlyphs" font-weight="bold" text-anchor="middle">CHF</text>
<text x="1500.5" y="374.8" font-family='"Liberation Sans", sans-serif' font-size="10" fill="#d8c4a8" text-anchor="middle">6.3</text>
<text x="1500.5" y="383.6" font-family='"Liberation Sans", sans-serif' font-size="8.3" fill="#6cb8ee" textLength="14" lengthAdjust="spacingAndGlyphs" font-weight="bold" text-anchor="middle">CAD</text>
<text x="1520.5" y="374.8" font-family='"Liberation Sans", sans-serif' font-size="10" fill="#d8c4a8" text-anchor="middle">7.1</text>
<text x="1520.5" y="383.6" font-family='"Liberation Sans", sans-serif' font-size="8.3" fill="#6cb8ee" textLength="14" lengthAdjust="spacingAndGlyphs" font-weight="bold" text-anchor="middle">AUD</text>
<text x="1540.5" y="374.8" font-family='"Liberation Sans", sans-serif' font-size="10" fill="#d8c4a8" text-anchor="middle">7.1</text>
<text x="1540.5" y="383.6" font-family='"Liberation Sans", sans-serif' font-size="8.3" fill="#6cb8ee" textLength="14" lengthAdjust="spacingAndGlyphs" font-weight="bold" text-anchor="middle">NZD</text>
<text x="1560.5" y="374.8" font-family='"Liberation Sans", sans-serif' font-size="10" fill="#d8c4a8" text-anchor="middle">6.3</text>
<text x="1560.5" y="383.6" font-family='"Liberation Sans", sans-serif' font-size="8.3" fill="#6cb8ee" textLength="14" lengthAdjust="spacingAndGlyphs" font-weight="bold" text-anchor="middle">JPY</text>
<text x="1415" y="398.5" font-family='"Liberation Sans", sans-serif' font-size="11.6" fill="#3a4a78" textLength="59.5" lengthAdjust="spacingAndGlyphs">CURRENCY</text>
<text x="1484" y="398.5" font-family='"Liberation Sans", sans-serif' font-size="11.6" fill="#3a4a78" textLength="38" lengthAdjust="spacingAndGlyphs">POWER</text>
<text x="1530.5" y="398.5" font-family='"Liberation Sans", sans-serif' font-size="11.6" fill="#3a4a78" textLength="35.5" lengthAdjust="spacingAndGlyphs">METER</text>
<line x1="1056.5" y1="21" x2="1580" y2="272.5" stroke="#ffff00" stroke-width="1" shape-rendering="crispEdges"/>
<text x="1251" y="182" font-family='"Liberation Mono", monospace' font-size="14.6" fill="#f00">&lt;--51:21</text>
</g>
<polygon points="3,8 10,8 6.5,12" fill="#fff"/>
<rect x="14" y="5" width="56" height="10" fill="#000"/>
<text transform="matrix(0.95,0,0,1,14.5,13)" font-size="9.8" fill="#fff">XAUUSD,H1</text>
<rect x="75" y="5" width="33" height="10" fill="#000"/>
<text transform="matrix(0.95,0,0,1,75.5,13)" font-size="9.8" fill="#fff">1994.06</text>
<rect x="111" y="5" width="33" height="10" fill="#000"/>
<text transform="matrix(0.95,0,0,1,111.5,13)" font-size="9.8" fill="#fff">1994.41</text>
<rect x="147" y="5" width="34" height="10" fill="#000"/>
<text transform="matrix(0.95,0,0,1,147.5,13)" font-size="9.8" fill="#fff">1990.83</text>
<rect x="183" y="5" width="34" height="10" fill="#000"/>
<text transform="matrix(0.95,0,0,1,183.5,13)" font-size="9.8" fill="#fff">1991.05</text>
<g clip-path="url(#cs)">
<path d="M32.5 407V652 M64.5 407V652 M96.5 407V652 M128.5 407V652 M160.5 407V652 M192.5 407V652 M224.5 407V652 M256.5 407V652 M288.5 407V652 M320.5 407V652 M352.5 407V652 M384.5 407V652 M416.5 407V652 M448.5 407V652 M480.5 407V652 M512.5 407V652 M544.5 407V652 M576.5 407V652 M608.5 407V652 M640.5 407V652 M672.5 407V652 M704.5 407V652 M736.5 407V652 M768.5 407V652 M800.5 407V652 M832.5 407V652 M864.5 407V652 M896.5 407V652 M928.5 407V652 M960.5 407V652 M992.5 407V652 M1024.5 407V652 M1056.5 407V652 M1088.5 407V652 M1120.5 407V652 M1152.5 407V652 M1184.5 407V652 M1216.5 407V652 M1248.5 407V652 M1280.5 407V652 M1312.5 407V652 M1344.5 407V652 M1376.5 407V652 M1408.5 407V652 M1440.5 407V652 M1472.5 407V652 M1504.5 407V652 M1536.5 407V652 M1568.5 407V652" stroke="#778899" stroke-width="1" stroke-dasharray="3 3" stroke-dashoffset="5" fill="none" shape-rendering="crispEdges"/>
<path d="M0 581.5H1580" stroke="#778899" stroke-width="1" stroke-dasharray="3 3" stroke-dashoffset="5" fill="none" shape-rendering="crispEdges"/>
<rect x="-1" y="556" width="3" height="25" fill="#00ff00"/>
<rect x="15" y="557" width="3" height="24" fill="#00ff00"/>
<rect x="31" y="554" width="3" height="27" fill="#008000"/>
<rect x="47" y="561" width="3" height="20" fill="#00ff00"/>
<rect x="63" y="565" width="3" height="16" fill="#00ff00"/>
<rect x="79" y="568" width="3" height="13" fill="#00ff00"/>
<rect x="95" y="571" width="3" height="10" fill="#00ff00"/>
<rect x="111" y="576" width="3" height="5" fill="#00ff00"/>
<rect x="127" y="582" width="3" height="1" fill="#008000"/>
<rect x="143" y="582" width="3" height="2" fill="#ff0000"/>
<rect x="159" y="582" width="3" height="7" fill="#ff0000"/>
<rect x="175" y="582" width="3" height="3" fill="#fa8072"/>
<rect x="191" y="578" width="3" height="3" fill="#008000"/>
<rect x="207" y="573" width="3" height="8" fill="#008000"/>
<rect x="223" y="546" width="3" height="35" fill="#008000"/>
<rect x="239" y="547" width="3" height="34" fill="#00ff00"/>
<rect x="255" y="540" width="3" height="41" fill="#008000"/>
<rect x="271" y="547" width="3" height="34" fill="#00ff00"/>
<rect x="287" y="541" width="3" height="40" fill="#008000"/>
<rect x="303" y="546" width="3" height="35" fill="#00ff00"/>
<rect x="319" y="554" width="3" height="27" fill="#00ff00"/>
<rect x="335" y="564" width="3" height="17" fill="#00ff00"/>
<rect x="351" y="568" width="3" height="13" fill="#00ff00"/>
<rect x="367" y="569" width="3" height="12" fill="#00ff00"/>
<rect x="383" y="571" width="3" height="10" fill="#00ff00"/>
<rect x="399" y="568" width="3" height="13" fill="#008000"/>
<rect x="415" y="569" width="3" height="12" fill="#00ff00"/>
<rect x="431" y="565" width="3" height="16" fill="#008000"/>
<rect x="447" y="560" width="3" height="21" fill="#008000"/>
<rect x="463" y="566" width="3" height="15" fill="#00ff00"/>
<rect x="479" y="573" width="3" height="8" fill="#00ff00"/>
<rect x="495" y="570" width="3" height="11" fill="#008000"/>
<rect x="511" y="564" width="3" height="17" fill="#008000"/>
<rect x="527" y="566" width="3" height="15" fill="#00ff00"/>
<rect x="543" y="575" width="3" height="6" fill="#00ff00"/>
<rect x="559" y="582" width="3" height="8" fill="#ff0000"/>
<rect x="575" y="582" width="3" height="29" fill="#ff0000"/>
<rect x="591" y="582" width="3" height="42" fill="#ff0000"/>
<rect x="607" y="582" width="3" height="52" fill="#ff0000"/>
<rect x="623" y="582" width="3" height="54" fill="#ff0000"/>
<rect x="639" y="582" width="3" height="46" fill="#fa8072"/>
<rect x="655" y="582" width="3" height="30" fill="#fa8072"/>
<rect x="671" y="582" width="3" height="17" fill="#fa8072"/>
<rect x="687" y="582" width="3" height="11" fill="#fa8072"/>
<rect x="703" y="582" width="3" height="6" fill="#fa8072"/>
<rect x="719" y="582" width="3" height="2" fill="#fa8072"/>
<rect x="735" y="582" width="3" height="3" fill="#ff0000"/>
<rect x="751" y="582" width="3" height="5" fill="#ff0000"/>
<rect x="767" y="582" width="3" height="4" fill="#fa8072"/>
<rect x="783" y="582" width="3" height="1" fill="#fa8072"/>
<rect x="799" y="577" width="3" height="4" fill="#008000"/>
<rect x="815" y="571" width="3" height="10" fill="#008000"/>
<rect x="831" y="570" width="3" height="11" fill="#008000"/>
<rect x="847" y="571" width="3" height="10" fill="#00ff00"/>
<rect x="863" y="574" width="3" height="7" fill="#00ff00"/>
<rect x="879" y="578" width="3" height="3" fill="#00ff00"/>
<rect x="895" y="582" width="3" height="2" fill="#ff0000"/>
<rect x="911" y="582" width="3" height="15" fill="#ff0000"/>
<rect x="927" y="582" width="3" height="24" fill="#ff0000"/>
<rect x="943" y="582" width="3" height="39" fill="#ff0000"/>
<rect x="959" y="582" width="3" height="33" fill="#fa8072"/>
<rect x="975" y="582" width="3" height="31" fill="#fa8072"/>
<rect x="991" y="582" width="3" height="32" fill="#ff0000"/>
<rect x="1007" y="582" width="3" height="24" fill="#fa8072"/>
<rect x="1023" y="569" width="3" height="12" fill="#008000"/>
<rect x="1039" y="524" width="3" height="57" fill="#008000"/>
<rect x="1055" y="493" width="3" height="88" fill="#008000"/>
<rect x="1071" y="478" width="3" height="103" fill="#008000"/>
<rect x="1087" y="481" width="3" height="100" fill="#00ff00"/>
<rect x="1103" y="488" width="3" height="93" fill="#00ff00"/>
<rect x="1119" y="499" width="3" height="82" fill="#00ff00"/>
<rect x="1135" y="519" width="3" height="62" fill="#00ff00"/>
<rect x="1151" y="541" width="3" height="40" fill="#00ff00"/>
<rect x="1167" y="563" width="3" height="18" fill="#00ff00"/>
<rect x="1183" y="582" width="3" height="2" fill="#ff0000"/>
<rect x="1199" y="582" width="3" height="25" fill="#ff0000"/>
<rect x="1215" y="582" width="3" height="42" fill="#ff0000"/>
<rect x="1231" y="582" width="3" height="58" fill="#ff0000"/>
<polyline points="-15.5,633.5999999999999 0.5,625.3 16.5,617 32.5,607.6 48.5,601.4 64.5,596.5 80.5,592.8 96.5,590 112.5,587.4 128.5,585 144.5,583.5 160.5,582.5 176.5,583 192.5,583.5 208.5,581.8 224.5,578 240.5,573.7 256.5,567.5 272.5,561.4 288.5,553.5 304.5,545 320.5,535.8 336.5,528.5 352.5,521 368.5,516.2 384.5,512.3 400.5,508.8 416.5,505 432.5,502 448.5,498.5 464.5,495.3 480.5,492 496.5,489 512.5,485.5 528.5,481.8 544.5,478.6 560.5,478 576.5,479.8 592.5,485.5 608.5,492.3 624.5,500.2 640.5,510 656.5,518.6 672.5,526.5 688.5,534.6 704.5,542 720.5,547 736.5,550.6 752.5,551.8 768.5,551.8 784.5,550.6 800.5,550.6 816.5,548.7 832.5,547.9 848.5,547 864.5,546 880.5,544.3 896.5,543.7 912.5,544.3 928.5,546.5 944.5,550.6 960.5,556 976.5,562.2 992.5,569.4 1008.5,576.8 1024.5,580 1040.5,577.8 1056.5,569.5 1072.5,557.6 1088.5,539.7 1104.5,520.4 1120.5,501 1136.5,482.3 1152.5,462.4 1168.5,445.3 1184.5,436.8 1200.5,433.7 1216.5,436.2 1232.5,444" stroke="#ff7f50" stroke-width="1" fill="none" shape-rendering="crispEdges"/>
<polyline points="-15.5,607.6000000000001 0.5,600.2 16.5,592.8 32.5,581 48.5,581.3 64.5,580.6 80.5,580.6 96.5,580.8 112.5,582 128.5,583.5 144.5,584.2 160.5,589.2 176.5,586 192.5,580.6 208.5,572.7 224.5,543.2 240.5,540.8 256.5,526.5 272.5,526.5 288.5,514.2 304.5,508.8 320.5,508.8 336.5,511.3 352.5,508 368.5,504.4 384.5,502.4 400.5,495.3 416.5,492.3 432.5,486.7 448.5,477.3 464.5,480.5 480.5,484.2 496.5,478 512.5,468.7 528.5,466 544.5,473.2 560.5,485 576.5,511.3 592.5,529.7 608.5,545.7 624.5,555 640.5,556.7 656.5,549.8 672.5,545 688.5,547.6 704.5,549 720.5,549.3 736.5,553.5 752.5,556.7 768.5,553.6 784.5,550.6 800.5,546.5 816.5,538.5 832.5,537.1 848.5,537.4 864.5,539 880.5,541 896.5,545.6 912.5,558.3 928.5,570 944.5,590 960.5,591.1 976.5,594 992.5,602.2 1008.5,600.8 1024.5,564.4 1040.5,521.5 1056.5,477 1072.5,452.8 1088.5,440.4 1104.5,430.7 1120.5,420.5 1136.5,419.7 1152.5,421.6 1168.5,427.1 1184.5,437 1200.5,458.3 1216.5,480.4 1232.5,503" stroke="#2ad0d4" stroke-width="1" fill="none" shape-rendering="crispEdges"/>
</g>
<text transform="matrix(0.95,0,0,1,4.5,418.5)" font-size="9.8" fill="#fff">Tipu MACD -1.9842 2.6046 4.5888</text>
<path d="M0 1.5H1580.5V404.5H0 M0 406.5H1580.5V652.5H0" stroke="#fff" stroke-width="1" fill="none" shape-rendering="crispEdges"/>
<rect x="1581" y="5" width="2" height="1" fill="#fff"/>
<rect x="1581" y="38" width="2" height="1" fill="#fff"/>
<rect x="1581" y="71" width="2" height="1" fill="#fff"/>
<rect x="1581" y="104" width="2" height="1" fill="#fff"/>
<rect x="1581" y="137" width="2" height="1" fill="#fff"/>
<rect x="1581" y="203" width="2" height="1" fill="#fff"/>
<rect x="1581" y="236" width="2" height="1" fill="#fff"/>
<rect x="1581" y="269" width="2" height="1" fill="#fff"/>
<rect x="1581" y="302" width="2" height="1" fill="#fff"/>
<rect x="1581" y="335" width="2" height="1" fill="#fff"/>
<rect x="1581" y="368" width="2" height="1" fill="#fff"/>
<rect x="1581" y="401" width="2" height="1" fill="#fff"/>
<text transform="matrix(0.95,0,0,1,1586,9)" font-size="9.8" fill="#fff">2011.40</text><text transform="matrix(0.95,0,0,1,1586,42)" font-size="9.8" fill="#fff">2007.30</text><text transform="matrix(0.95,0,0,1,1586,75)" font-size="9.8" fill="#fff">2003.10</text><text transform="matrix(0.95,0,0,1,1586,108)" font-size="9.8" fill="#fff">1999.00</text><text transform="matrix(0.95,0,0,1,1586,141)" font-size="9.8" fill="#fff">1994.90</text><text transform="matrix(0.95,0,0,1,1586,207)" font-size="9.8" fill="#fff">1986.60</text><text transform="matrix(0.95,0,0,1,1586,240)" font-size="9.8" fill="#fff">1982.50</text><text transform="matrix(0.95,0,0,1,1586,273)" font-size="9.8" fill="#fff">1978.40</text><text transform="matrix(0.95,0,0,1,1586,306)" font-size="9.8" fill="#fff">1974.30</text><text transform="matrix(0.95,0,0,1,1586,339)" font-size="9.8" fill="#fff">1970.10</text><text transform="matrix(0.95,0,0,1,1586,372)" font-size="9.8" fill="#fff">1966.00</text><text transform="matrix(0.95,0,0,1,1586,405)" font-size="9.8" fill="#fff">1961.90</text>
<rect x="1582" y="162" width="41" height="11" fill="#f00"/>
<rect x="1582" y="173" width="41" height="1" fill="#fff"/>
<text transform="matrix(0.95,0,0,1,1586,171)" font-size="9.8" fill="#000">1991.05</text>
<rect x="1575" y="166" width="5" height="5" fill="#f00"/><rect x="1576" y="167" width="3" height="3" fill="#fff"/>
<text transform="matrix(0.95,0,0,1,1584,417)" font-size="9.8" fill="#fff">5.7901</text><text transform="matrix(0.95,0,0,1,1584,585)" font-size="9.8" fill="#fff">0.00</text><text transform="matrix(0.95,0,0,1,1584,649)" font-size="9.8" fill="#fff">-2.3544</text>
<rect x="1581" y="408" width="2" height="1" fill="#fff"/><rect x="1581" y="581" width="2" height="1" fill="#fff"/>
<rect x="0" y="653" width="1" height="3" fill="#fff"/>
<rect x="64" y="653" width="1" height="3" fill="#fff"/>
<rect x="128" y="653" width="1" height="3" fill="#fff"/>
<rect x="192" y="653" width="1" height="3" fill="#fff"/>
<rect x="256" y="653" width="1" height="3" fill="#fff"/>
<rect x="320" y="653" width="1" height="3" fill="#fff"/>
<rect x="384" y="653" width="1" height="3" fill="#fff"/>
<rect x="448" y="653" width="1" height="3" fill="#fff"/>
<rect x="512" y="653" width="1" height="3" fill="#fff"/>
<rect x="576" y="653" width="1" height="3" fill="#fff"/>
<rect x="640" y="653" width="1" height="3" fill="#fff"/>
<rect x="704" y="653" width="1" height="3" fill="#fff"/>
<rect x="768" y="653" width="1" height="3" fill="#fff"/>
<rect x="832" y="653" width="1" height="3" fill="#fff"/>
<rect x="896" y="653" width="1" height="3" fill="#fff"/>
<rect x="960" y="653" width="1" height="3" fill="#fff"/>
<rect x="1024" y="653" width="1" height="3" fill="#fff"/>
<rect x="1088" y="653" width="1" height="3" fill="#fff"/>
<rect x="1152" y="653" width="1" height="3" fill="#fff"/>
<rect x="1216" y="653" width="1" height="3" fill="#fff"/>
<text transform="matrix(0.95,0,0,1,-1,665)" font-size="9.8" fill="#fff">25 Oct 2023</text><text transform="matrix(0.95,0,0,1,64,665)" font-size="9.8" fill="#fff">25 Oct 06:00</text><text transform="matrix(0.95,0,0,1,128,665)" font-size="9.8" fill="#fff">25 Oct 10:00</text><text transform="matrix(0.95,0,0,1,192,665)" font-size="9.8" fill="#fff">25 Oct 14:00</text><text transform="matrix(0.95,0,0,1,256,665)" font-size="9.8" fill="#fff">25 Oct 18:00</text><text transform="matrix(0.95,0,0,1,320,665)" font-size="9.8" fill="#fff">25 Oct 22:00</text><text transform="matrix(0.95,0,0,1,384,665)" font-size="9.8" fill="#fff">26 Oct 03:00</text><text transform="matrix(0.95,0,0,1,448,665)" font-size="9.8" fill="#fff">26 Oct 07:00</text><text transform="matrix(0.95,0,0,1,512,665)" font-size="9.8" fill="#fff">26 Oct 11:00</text><text transform="matrix(0.95,0,0,1,576,665)" font-size="9.8" fill="#fff">26 Oct 15:00</text><text transform="matrix(0.95,0,0,1,640,665)" font-size="9.8" fill="#fff">26 Oct 19:00</text><text transform="matrix(0.95,0,0,1,704,665)" font-size="9.8" fill="#fff">26 Oct 23:00</text><text transform="matrix(0.95,0,0,1,768,665)" font-size="9.8" fill="#fff">27 Oct 04:00</text><text transform="matrix(0.95,0,0,1,832,665)" font-size="9.8" fill="#fff">27 Oct 08:00</text><text transform="matrix(0.95,0,0,1,896,665)" font-size="9.8" fill="#fff">27 Oct 12:00</text><text transform="matrix(0.95,0,0,1,960,665)" font-size="9.8" fill="#fff">27 Oct 16:00</text><text transform="matrix(0.95,0,0,1,1024,665)" font-size="9.8" fill="#fff">27 Oct 20:00</text><text transform="matrix(0.95,0,0,1,1088,665)" font-size="9.8" fill="#fff">30 Oct 01:00</text><text transform="matrix(0.95,0,0,1,1152,665)" font-size="9.8" fill="#fff">30 Oct 05:00</text><text transform="matrix(0.95,0,0,1,1216,665)" font-size="9.8" fill="#fff">30 Oct 09:00</text>
</svg>
<div id="term"><div style="left:0px;top:0px;width:1627px;height:1px;background:#ffffff"></div><div style="left:0px;top:4px;width:1625px;height:1px;background:#f5f5f5"></div><div style="left:0px;top:5px;width:1625px;height:1px;background:#a0a0a0"></div><div style="left:0px;top:6px;width:1607px;height:24px;background:#ffffff"></div><div style="left:0;top:6px;width:1607px;height:24px"><div class="h" style="left:0px;width:162px">時間</div><div class="h" style="left:166px;width:125px">類型</div><div class="h" style="left:295px;width:96px">手數</div><div class="h" style="left:395px;width:125px">交易品種</div><div class="h" style="left:524px;width:139px">價格</div><div class="h" style="left:667px;width:139px">止損</div><div class="h" style="left:810px;width:139px">獲利</div><div class="h" style="left:953px;width:139px">價格</div><div class="h" style="left:1096px;width:139px">佣金</div><div class="h" style="left:1239px;width:139px">庫存費</div><div class="h" style="left:1382px;width:218.5px">獲利</div></div><div style="left:167px;top:6px;width:1px;height:24px;background:#e5e5e5"></div><div style="left:296px;top:6px;width:1px;height:24px;background:#e5e5e5"></div><div style="left:396px;top:6px;width:1px;height:24px;background:#e5e5e5"></div><div style="left:525px;top:6px;width:1px;height:24px;background:#e5e5e5"></div><div style="left:668px;top:6px;width:1px;height:24px;background:#e5e5e5"></div><div style="left:811px;top:6px;width:1px;height:24px;background:#e5e5e5"></div><div style="left:954px;top:6px;width:1px;height:24px;background:#e5e5e5"></div><div style="left:1097px;top:6px;width:1px;height:24px;background:#e5e5e5"></div><div style="left:1240px;top:6px;width:1px;height:24px;background:#e5e5e5"></div><div style="left:1383px;top:6px;width:1px;height:24px;background:#e5e5e5"></div><div style="left:0px;top:30px;width:1607px;height:1px;background:#d5d5d5"></div><div style="left:0px;top:31px;width:1607px;height:19px;background:#ffffff"></div><div style="left:0px;top:50px;width:1607px;height:20px;background:#0078d7"></div><div style="left:0px;top:70px;width:1607px;height:20px;background:#ffffff"></div><div style="left:0px;top:90px;width:1607px;height:20px;background:#ebebeb"></div><div style="left:0px;top:110px;width:1607px;height:20px;background:#ffffff"></div><div style="left:0px;top:130px;width:1607px;height:20px;background:#ebebeb"></div><div style="left:0px;top:150px;width:1607px;height:20px;background:#ffffff"></div><div style="left:0px;top:70px;width:1607px;height:1px;background:#ececec"></div><div style="left:0px;top:90px;width:1607px;height:1px;background:#d2d2d2"></div><div style="left:0px;top:110px;width:1607px;height:1px;background:#d2d2d2"></div><div style="left:0px;top:130px;width:1607px;height:1px;background:#d2d2d2"></div><div style="left:0px;top:150px;width:1607px;height:1px;background:#d2d2d2"></div><div style="left:166px;top:31px;width:1px;height:139px;background:#cfcfcf"></div><div style="left:166px;top:190px;width:1px;height:7px;background:#cfcfcf"></div><div style="left:295px;top:31px;width:1px;height:139px;background:#cfcfcf"></div><div style="left:295px;top:190px;width:1px;height:7px;background:#cfcfcf"></div><div style="left:395px;top:31px;width:1px;height:139px;background:#cfcfcf"></div><div style="left:395px;top:190px;width:1px;height:7px;background:#cfcfcf"></div><div style="left:524px;top:31px;width:1px;height:139px;background:#cfcfcf"></div><div style="left:524px;top:190px;width:1px;height:7px;background:#cfcfcf"></div><div style="left:667px;top:31px;width:1px;height:139px;background:#cfcfcf"></div><div style="left:667px;top:190px;width:1px;height:7px;background:#cfcfcf"></div><div style="left:810px;top:31px;width:1px;height:139px;background:#cfcfcf"></div><div style="left:810px;top:190px;width:1px;height:7px;background:#cfcfcf"></div><div style="left:953px;top:31px;width:1px;height:139px;background:#cfcfcf"></div><div style="left:953px;top:190px;width:1px;height:7px;background:#cfcfcf"></div><div style="left:1096px;top:31px;width:1px;height:139px;background:#cfcfcf"></div><div style="left:1096px;top:190px;width:1px;height:7px;background:#cfcfcf"></div><div style="left:1239px;top:31px;width:1px;height:139px;background:#cfcfcf"></div><div style="left:1239px;top:190px;width:1px;height:7px;background:#cfcfcf"></div><div style="left:1382px;top:31px;width:1px;height:139px;background:#cfcfcf"></div><div style="left:1382px;top:190px;width:1px;height:7px;background:#cfcfcf"></div><div style="left:0;top:30px;width:1607px;height:20px"><div class="c" style="left:0px;width:163.5px">2023.10.26 17:45:32</div><div class="c" style="left:166px;width:127.30000000000001px">sell</div><div class="c" style="left:295px;width:97.5px">0.50</div><div class="c" style="left:395px;width:127.29999999999995px">xauusd</div><div class="c" style="left:524px;width:140.5px">1978.86</div><div class="c" style="left:667px;width:140.5px">0.00</div><div class="c" style="left:810px;width:140.5px">1977.00</div><div class="c" style="left:953px;width:140.5px">1991.39</div><div class="c" style="left:1096px;width:140.5px">0.00</div><div class="c" style="left:1239px;width:140.5px">10.96</div><div class="c" style="left:1382px;width:201px">-626.50</div></div><svg style="position:absolute;left:1593px;top:37px" width="8" height="8"><path d="M1 1L7 7M7 1L1 7" stroke="#858585" stroke-width="2"/></svg><div style="left:0;top:50px;width:1607px;height:20px"><div class="c" style="left:0px;width:163.5px;color:#fff">2023.10.27 20:41:10</div><div class="c" style="left:166px;width:127.30000000000001px;color:#fff">sell</div><div class="c" style="left:295px;width:97.5px;color:#fff">0.55</div><div class="c" style="left:395px;width:127.29999999999995px;color:#fff">xauusd</div><div class="c" style="left:524px;width:140.5px;color:#fff">1992.39</div><div class="c" style="left:667px;width:140.5px;color:#fff">0.00</div><div class="c" style="left:810px;width:140.5px;color:#fff">1985.23</div><div class="c" style="left:953px;width:140.5px;color:#fff">1991.39</div><div class="c" style="left:1096px;width:140.5px;color:#fff">0.00</div><div class="c" style="left:1239px;width:140.5px;color:#fff">6.03</div><div class="c" style="left:1382px;width:201px;color:#fff">55.00</div></div><svg style="position:absolute;left:1593px;top:57px" width="8" height="8"><path d="M1 1L7 7M7 1L1 7" stroke="#bfa99c" stroke-width="2"/></svg><div style="left:0;top:70px;width:1607px;height:20px"><div class="c" style="left:0px;width:163.5px">2023.10.27 20:30:51</div><div class="c" style="left:166px;width:127.30000000000001px">sell</div><div class="c" style="left:295px;width:97.5px">0.55</div><div class="c" style="left:395px;width:127.29999999999995px">xauusd</div><div class="c" style="left:524px;width:140.5px">1987.88</div><div class="c" style="left:667px;width:140.5px">0.00</div><div class="c" style="left:810px;width:140.5px">1985.23</div><div class="c" style="left:953px;width:140.5px">1991.39</div><div class="c" style="left:1096px;width:140.5px">0.00</div><div class="c" style="left:1239px;width:140.5px">6.03</div><div class="c" style="left:1382px;width:201px">-193.05</div></div><svg style="position:absolute;left:1593px;top:77px" width="8" height="8"><path d="M1 1L7 7M7 1L1 7" stroke="#858585" stroke-width="2"/></svg><div style="left:0;top:90px;width:1607px;height:20px"><div class="c" style="left:0px;width:163.5px">2023.10.27 19:51:44</div><div class="c" style="left:166px;width:127.30000000000001px">sell</div><div class="c" style="left:295px;width:97.5px">0.50</div><div class="c" style="left:395px;width:127.29999999999995px">xauusd</div><div class="c" style="left:524px;width:140.5px">1982.19</div><div class="c" style="left:667px;width:140.5px">0.00</div><div class="c" style="left:810px;width:140.5px">0.00</div><div class="c" style="left:953px;width:140.5px">1991.39</div><div class="c" style="left:1096px;width:140.5px">0.00</div><div class="c" style="left:1239px;width:140.5px">5.48</div><div class="c" style="left:1382px;width:201px">-460.00</div></div><svg style="position:absolute;left:1593px;top:97px" width="8" height="8"><path d="M1 1L7 7M7 1L1 7" stroke="#858585" stroke-width="2"/></svg><div style="left:0;top:110px;width:1607px;height:20px"><div class="c" style="left:0px;width:163.5px">2023.10.30 07:30:15</div><div class="c" style="left:166px;width:127.30000000000001px">sell</div><div class="c" style="left:295px;width:97.5px">0.80</div><div class="c" style="left:395px;width:127.29999999999995px">xauusd</div><div class="c" style="left:524px;width:140.5px">2001.80</div><div class="c" style="left:667px;width:140.5px">0.00</div><div class="c" style="left:810px;width:140.5px">1985.23</div><div class="c" style="left:953px;width:140.5px">1991.39</div><div class="c" style="left:1096px;width:140.5px">0.00</div><div class="c" style="left:1239px;width:140.5px">0.00</div><div class="c" style="left:1382px;width:201px">832.80</div></div><svg style="position:absolute;left:1593px;top:117px" width="8" height="8"><path d="M1 1L7 7M7 1L1 7" stroke="#858585" stroke-width="2"/></svg><div style="left:0;top:130px;width:1607px;height:20px"><div class="c" style="left:0px;width:163.5px">2023.10.30 07:17:46</div><div class="c" style="left:166px;width:127.30000000000001px">sell</div><div class="c" style="left:295px;width:97.5px">0.80</div><div class="c" style="left:395px;width:127.29999999999995px">xauusd</div><div class="c" style="left:524px;width:140.5px">2000.88</div><div class="c" style="left:667px;width:140.5px">0.00</div><div class="c" style="left:810px;width:140.5px">1985.23</div><div class="c" style="left:953px;width:140.5px">1991.39</div><div class="c" style="left:1096px;width:140.5px">0.00</div><div class="c" style="left:1239px;width:140.5px">0.00</div><div class="c" style="left:1382px;width:201px">759.20</div></div><svg style="position:absolute;left:1593px;top:137px" width="8" height="8"><path d="M1 1L7 7M7 1L1 7" stroke="#858585" stroke-width="2"/></svg><div style="left:0;top:150px;width:1607px;height:20px"><div class="c" style="left:0px;width:163.5px">2023.10.30 09:17:20</div><div class="c" style="left:166px;width:127.30000000000001px">sell</div><div class="c" style="left:295px;width:97.5px">0.80</div><div class="c" style="left:395px;width:127.29999999999995px">xauusd</div><div class="c" style="left:524px;width:140.5px">1996.66</div><div class="c" style="left:667px;width:140.5px">0.00</div><div class="c" style="left:810px;width:140.5px">1985.23</div><div class="c" style="left:953px;width:140.5px">1991.39</div><div class="c" style="left:1096px;width:140.5px">0.00</div><div class="c" style="left:1239px;width:140.5px">0.00</div><div class="c" style="left:1382px;width:201px">421.60</div></div><svg style="position:absolute;left:1593px;top:157px" width="8" height="8"><path d="M1 1L7 7M7 1L1 7" stroke="#858585" stroke-width="2"/></svg><div style="left:0px;top:170px;width:1607px;height:20px;background:#c8c8c8"></div><div class="c" style="left:-21px;top:170px;text-align:left;font-size:12.05px;-webkit-text-stroke:0.35px #000;font-family:'Liberation Sans','Noto Sans CJK TC',sans-serif">預付款: 1 793.83&nbsp;&nbsp;可用預付款: 16 490.07&nbsp;&nbsp;預付款比例: 1019.27%</div><div style="left:0;top:170px;width:1607px;height:20px"><div class="c" style="left:1382px;width:201px;font-weight:bold">817.55</div></div><div style="left:0px;top:190px;width:1607px;height:7px;background:#ffffff"></div><div style="left:0;top:190px;width:1607px;height:20px"><div class="c" style="left:0px;width:163.5px">2023.10.26 19:04:30</div><div class="c" style="left:166px;width:127.30000000000001px">buy limit</div><div class="c" style="left:295px;width:97.5px">0.50</div><div class="c" style="left:395px;width:127.29999999999995px">xauusd</div><div class="c" style="left:524px;width:140.5px">1974.87</div><div class="c" style="left:667px;width:140.5px">0.00</div><div class="c" style="left:810px;width:140.5px">0.00</div><div class="c" style="left:953px;width:140.5px">1991.39</div></div><div style="left:166px;top:190px;width:1px;height:7px;background:#cfcfcf"></div><div style="left:295px;top:190px;width:1px;height:7px;background:#cfcfcf"></div><div style="left:395px;top:190px;width:1px;height:7px;background:#cfcfcf"></div><div style="left:524px;top:190px;width:1px;height:7px;background:#cfcfcf"></div><div style="left:667px;top:190px;width:1px;height:7px;background:#cfcfcf"></div><div style="left:810px;top:190px;width:1px;height:7px;background:#cfcfcf"></div><div style="left:953px;top:190px;width:1px;height:7px;background:#cfcfcf"></div><div style="left:1096px;top:190px;width:1px;height:7px;background:#cfcfcf"></div><div style="left:1239px;top:190px;width:1px;height:7px;background:#cfcfcf"></div><div style="left:1382px;top:190px;width:1px;height:7px;background:#cfcfcf"></div><div style="left:1606px;top:6px;width:1px;height:24px;background:#e3e3e3"></div><div style="left:1607px;top:6px;width:1px;height:191px;background:#ffffff"></div><div style="left:1608px;top:6px;width:17px;height:191px;background:#f0f0f0"></div><div style="left:1608px;top:23px;width:15px;height:134px;background:#cdcdcd"></div><div style="left:1625px;top:6px;width:1px;height:191px;background:#f7f7f7"></div><svg style="position:absolute;left:1610px;top:11px" width="12" height="8"><path d="M2 6.2L5.6 2.6L9.2 6.2" stroke="#5a5a5a" stroke-width="1.8" fill="none"/></svg><div style="left:1626px;top:0px;width:1px;height:197px;background:#ffffff"></div></div>
</body></html>
